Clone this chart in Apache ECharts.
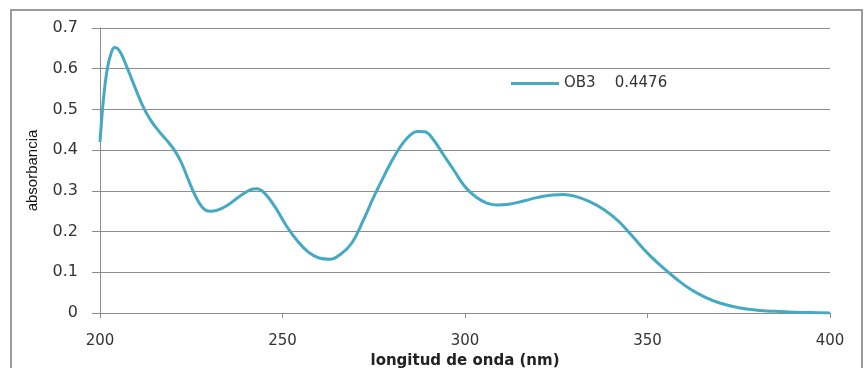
<!DOCTYPE html>
<html>
<head>
<meta charset="utf-8">
<script src="https://cdn.jsdelivr.net/npm/echarts@6/dist/echarts.min.js"></script>
<style>
  html, body { margin: 0; padding: 0; background: #fff; }
  #main { width: 867px; height: 368px; }
</style>
</head>
<body>
<div id="main"></div>
<script>
// longitud de onda (nm)
var wavelength = [200, 201, 202, 203, 204, 205, 206, 207, 208, 210, 212, 214, 216, 218, 220, 222, 224, 226, 228, 230, 232,
  235, 238, 241, 243, 245, 248, 251, 254, 257, 260, 263, 266, 269, 272, 275, 278, 281, 284, 287, 289,
  291, 294, 297, 300, 303, 306, 309, 312, 316, 320, 324, 327, 330, 334, 338, 342, 346, 350, 354, 358,
  362, 366, 370, 375, 380, 385, 390, 395, 400];
// absorbancia OB3
var absorbance = [0.42, 0.53, 0.60, 0.637, 0.652, 0.648, 0.633, 0.612, 0.59, 0.545, 0.503, 0.472, 0.448, 0.427, 0.405, 0.375, 0.332, 0.29, 0.26, 0.25, 0.252,
  0.265, 0.285, 0.302, 0.305, 0.295, 0.26, 0.215, 0.178, 0.15, 0.135, 0.132, 0.145, 0.172, 0.225, 0.285, 0.34, 0.39, 0.428, 0.446, 0.445,
  0.43, 0.39, 0.35, 0.31, 0.285, 0.27, 0.265, 0.267, 0.275, 0.284, 0.29, 0.291, 0.287, 0.274, 0.254, 0.226, 0.187, 0.147, 0.113, 0.083,
  0.057, 0.038, 0.024, 0.013, 0.007, 0.004, 0.002, 0.001, 0];
var seriesName = 'OB3    0.4476';

var pts = wavelength.map(function (w, i) { return [w, absorbance[i]]; });

var chart = echarts.init(document.getElementById('main'));
var gray = '#8c8c8c';
var font = 'DejaVu Sans, Verdana, sans-serif';

chart.setOption({
  animation: false,
  graphic: [{
    type: 'rect',
    shape: { x: 11, y: 10, width: 851, height: 370 },
    style: { fill: 'none', stroke: '#9a9a9a', lineWidth: 2 }
  }],
  legend: {
    left: 511,
    top: 76,
    padding: 0,
    itemWidth: 48,
    itemHeight: 3,
    itemGap: 4,
    icon: 'rect',
    textStyle: { fontFamily: font, fontSize: 15, color: '#333' },
    data: [seriesName]
  },
  grid: { left: 100, right: 37, top: 28, bottom: 55, outerBoundsMode: 'none' },
  xAxis: {
    type: 'value',
    min: 200,
    max: 400,
    interval: 50,
    name: 'longitud de onda (nm)',
    nameLocation: 'middle',
    nameGap: 38,
    nameTextStyle: { fontFamily: font, fontSize: 15, fontWeight: 'bold', color: '#222' },
    axisLine: { lineStyle: { color: gray, width: 1 } },
    axisTick: { show: true, length: 5, lineStyle: { color: gray } },
    axisLabel: { margin: 21, fontFamily: font, fontSize: 15, color: '#333' },
    splitLine: { show: false }
  },
  yAxis: {
    type: 'value',
    min: 0,
    max: 0.7,
    interval: 0.1,
    name: 'absorbancia',
    nameLocation: 'middle',
    nameRotate: 90,
    nameGap: 60,
    nameTextStyle: { fontFamily: 'Liberation Sans, Arial, sans-serif', fontSize: 15, color: '#111' },
    axisLine: { show: true, lineStyle: { color: gray, width: 1 } },
    axisTick: { show: true, inside: false, length: 8, lineStyle: { color: gray } },
    axisLabel: {
      margin: 22, fontFamily: font, fontSize: 16, color: '#333',
      formatter: function (v) { return v === 0 ? '0' : v.toFixed(1); }
    },
    splitLine: { lineStyle: { color: gray, width: 1 } }
  },
  series: [{
    name: seriesName,
    type: 'line',
    data: pts,
    smooth: 0.4,
    symbol: 'none',
    lineStyle: { color: '#45A9C4', width: 3 },
    itemStyle: { color: '#45A9C4' }
  }]
});
</script>
</body>
</html>
